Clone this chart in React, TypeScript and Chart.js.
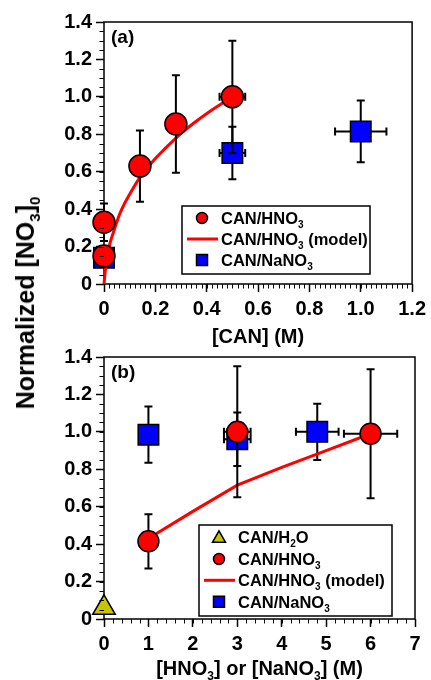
import React, { useEffect, useRef } from 'react';
import { Chart, registerables } from 'chart.js';

Chart.register(...registerables);

const FONT = '"Liberation Sans", Arial, Helvetica, sans-serif';

// ---------- Panel (a): [CAN] (M) ----------
const A_X_TICKS = [0, 0.2, 0.4, 0.6, 0.8, 1.0, 1.2];
const A_X_LABELS = ['0', '0.2', '0.4', '0.6', '0.8', '1.0', '1.2'];
const A_Y_TICKS = [0, 0.2, 0.4, 0.6, 0.8, 1.0, 1.2, 1.4];
const A_Y_LABELS = ['0', '0.2', '0.4', '0.6', '0.8', '1.0', '1.2', '1.4'];

const A_HNO3_X = [0, 0, 0.14, 0.28, 0.5];
const A_HNO3_Y = [0.33, 0.15, 0.63, 0.855, 1.0];
const A_HNO3_YERR = [0.1, 0, 0.19, 0.26, 0.3];
const A_HNO3_XERR = [0, 0, 0, 0, 0.05];

const A_MODEL_X = [0, 0.005, 0.01, 0.02, 0.04, 0.06, 0.08, 0.1, 0.14, 0.2, 0.28, 0.35, 0.42, 0.5];
const A_MODEL_Y = [0, 0.07, 0.12, 0.2, 0.29, 0.37, 0.43, 0.48, 0.57, 0.67, 0.78, 0.86, 0.93, 1.0];

const A_NANO3_X = [0, 0.5, 1.0];
const A_NANO3_Y = [0.14, 0.7, 0.815];
const A_NANO3_YERR = [0, 0.14, 0.165];
const A_NANO3_XERR = [0, 0.05, 0.1];

// ---------- Panel (b): [HNO3] or [NaNO3] (M) ----------
const B_X_TICKS = [0, 1, 2, 3, 4, 5, 6, 7];
const B_X_LABELS = ['0', '1', '2', '3', '4', '5', '6', '7'];
const B_Y_TICKS = [0, 0.2, 0.4, 0.6, 0.8, 1.0, 1.2, 1.4];
const B_Y_LABELS = ['0', '0.2', '0.4', '0.6', '0.8', '1.0', '1.2', '1.4'];

const B_H2O_X = [0];
const B_H2O_Y = [0.06];

const B_HNO3_X = [1, 3, 6];
const B_HNO3_Y = [0.415, 1.0, 0.99];
const B_HNO3_YERR = [0.145, 0.35, 0.345];
const B_HNO3_XERR = [0, 0.3, 0.6];

const B_MODEL_X = [1, 2, 3, 4, 5, 6];
const B_MODEL_Y = [0.43, 0.575, 0.715, 0.81, 0.9, 0.99];

const B_NANO3_X = [1, 3, 4.8];
const B_NANO3_Y = [0.985, 0.96, 1.0];
const B_NANO3_YERR = [0.15, 0.143, 0.15];
const B_NANO3_XERR = [0, 0.3, 0.48];

// ---------- helpers ----------
type Seg = [string, boolean];

function drawRich(ctx: any, segs: Seg[], x: number, yCenter: number, size: number, align: 'left' | 'center') {
  const sub = Math.round(size * 0.62);
  let w = 0;
  for (const [t, s] of segs) {
    ctx.font = `bold ${s ? sub : size}px ${FONT}`;
    w += ctx.measureText(t).width;
  }
  let cx = align === 'center' ? x - w / 2 : x;
  const base = yCenter + size * 0.36;
  ctx.textAlign = 'left';
  ctx.textBaseline = 'alphabetic';
  ctx.fillStyle = '#000';
  for (const [t, s] of segs) {
    ctx.font = `bold ${s ? sub : size}px ${FONT}`;
    ctx.fillText(t, cx, s ? base + size * 0.24 : base);
    cx += ctx.measureText(t).width;
  }
}

const pts = (xs: number[], ys: number[]) => xs.map((x, i) => ({ x, y: ys[i] }));

type LegendItem = { kind: 'circle' | 'rect' | 'tri' | 'line'; color: string; segs: Seg[] };

type Deco = {
  minorX: number;
  minorY: number;
  panel: string;
  xTitle: Seg[];
  xTitleY: number;
  box: { x: number; y: number; w: number; h: number };
  markerX: number;
  textX: number;
  lineX: [number, number];
  rows: number[];
  items: LegendItem[];
};

function decoPlugin(d: Deco) {
  return {
    id: 'deco',
    beforeDatasetsDraw(chart: any) {
      const { ctx, chartArea: a } = chart;
      ctx.save();
      ctx.strokeStyle = '#000';
      ctx.lineWidth = 1.5;
      ctx.strokeRect(a.left, a.top, a.right - a.left, a.bottom - a.top);
      ctx.restore();
    },
    beforeDatasetDraw(chart: any, args: any) {
      const ds: any = chart.data.datasets[args.index];
      if (!ds.errY && !ds.errX) return;
      const ctx = chart.ctx;
      const xs = chart.scales.x;
      const ys = chart.scales.y;
      const cap = 4;
      ctx.save();
      ctx.strokeStyle = '#000';
      ctx.lineWidth = 2;
      ds.data.forEach((p: any, i: number) => {
        const px = xs.getPixelForValue(p.x);
        const py = ys.getPixelForValue(p.y);
        const ey = ds.errY ? ds.errY[i] : 0;
        const ex = ds.errX ? ds.errX[i] : 0;
        ctx.beginPath();
        if (ey > 0) {
          const t = ys.getPixelForValue(p.y + ey);
          const b = ys.getPixelForValue(p.y - ey);
          ctx.moveTo(px, t); ctx.lineTo(px, b);
          ctx.moveTo(px - cap, t); ctx.lineTo(px + cap, t);
          ctx.moveTo(px - cap, b); ctx.lineTo(px + cap, b);
        }
        if (ex > 0) {
          const l = xs.getPixelForValue(p.x - ex);
          const r = xs.getPixelForValue(p.x + ex);
          ctx.moveTo(l, py); ctx.lineTo(r, py);
          ctx.moveTo(l, py - cap); ctx.lineTo(l, py + cap);
          ctx.moveTo(r, py - cap); ctx.lineTo(r, py + cap);
        }
        ctx.stroke();
      });
      ctx.restore();
    },
    afterDraw(chart: any) {
      const { ctx, chartArea: a } = chart;
      const xs = chart.scales.x;
      const ys = chart.scales.y;
      ctx.save();
      // minor ticks
      ctx.strokeStyle = '#000';
      ctx.lineWidth = 1;
      ctx.beginPath();
      const nx = Math.round((xs.max - xs.min) / d.minorX);
      for (let i = 0; i <= nx; i++) {
        const v = xs.min + i * d.minorX;
        const px = Math.round(xs.getPixelForValue(v)) + 0.5;
        ctx.moveTo(px, a.bottom);
        ctx.lineTo(px, a.bottom + 4.5);
      }
      const ny = Math.round((ys.max - ys.min) / d.minorY);
      for (let i = 0; i <= ny; i++) {
        const v = ys.min + i * d.minorY;
        const py = Math.round(ys.getPixelForValue(v)) + 0.5;
        ctx.moveTo(a.left, py);
        ctx.lineTo(a.left - 4.5, py);
      }
      ctx.stroke();

      // panel label
      ctx.fillStyle = '#000';
      ctx.font = `bold 19px ${FONT}`;
      ctx.textAlign = 'left';
      ctx.textBaseline = 'alphabetic';
      ctx.fillText(d.panel, a.left + 7, a.top + 20.5);

      // x title
      drawRich(ctx, d.xTitle, (a.left + a.right) / 2, d.xTitleY, 20, 'center');

      // legend
      const b = d.box;
      ctx.fillStyle = '#fff';
      ctx.fillRect(b.x, b.y, b.w, b.h);
      ctx.strokeStyle = '#000';
      ctx.lineWidth = 1.5;
      ctx.strokeRect(b.x, b.y, b.w, b.h);
      d.items.forEach((it, i) => {
        const y = d.rows[i];
        ctx.lineWidth = 1.5;
        ctx.strokeStyle = '#000';
        ctx.fillStyle = it.color;
        if (it.kind === 'circle') {
          ctx.beginPath();
          ctx.arc(d.markerX, y, 5.5, 0, Math.PI * 2);
          ctx.fill(); ctx.stroke();
        } else if (it.kind === 'rect') {
          ctx.beginPath();
          ctx.rect(d.markerX - 5.5, y - 5.5, 11, 11);
          ctx.fill(); ctx.stroke();
        } else if (it.kind === 'tri') {
          ctx.beginPath();
          ctx.moveTo(d.markerX, y - 6.5);
          ctx.lineTo(d.markerX + 6.5, y + 5);
          ctx.lineTo(d.markerX - 6.5, y + 5);
          ctx.closePath();
          ctx.fill(); ctx.stroke();
        } else {
          ctx.strokeStyle = it.color;
          ctx.lineWidth = 3;
          ctx.beginPath();
          ctx.moveTo(d.lineX[0], y);
          ctx.lineTo(d.lineX[1], y);
          ctx.stroke();
        }
        drawRich(ctx, it.segs, d.textX, y, 16.5, 'left');
      });
      ctx.restore();
    },
  };
}

function scales(xmin: number, xmax: number, xTicks: number[], xLabels: string[], yTicks: number[], yLabels: string[], xHeight: number) {
  const tickFont = { family: FONT, size: 20, weight: 'bold' as const };
  const grid = { drawOnChartArea: false, drawTicks: true, tickLength: 8, tickWidth: 1.5, tickColor: '#000', color: '#000' };
  return {
    x: {
      type: 'linear' as const,
      min: xmin,
      max: xmax,
      position: 'bottom' as const,
      afterBuildTicks: (s: any) => { s.ticks = xTicks.map((v) => ({ value: v })); },
      afterFit: (s: any) => { s.height = xHeight; },
      ticks: { font: tickFont, color: '#000', padding: 5, autoSkip: false, maxRotation: 0, callback: (_v: any, i: number) => xLabels[i] },
      grid,
      border: { display: false },
      title: { display: false },
    },
    y: {
      type: 'linear' as const,
      min: 0,
      max: 1.4,
      afterBuildTicks: (s: any) => { s.ticks = yTicks.map((v) => ({ value: v })); },
      afterFit: (s: any) => { s.width = 104; },
      ticks: { font: tickFont, color: '#000', padding: 4, autoSkip: false, callback: (_v: any, i: number) => yLabels[i] },
      grid,
      border: { display: false },
    },
  };
}

const HNO3: Seg[] = [['CAN/HNO', false], ['3', true]];
const HNO3M: Seg[] = [['CAN/HNO', false], ['3', true], [' (model)', false]];
const NANO3: Seg[] = [['CAN/NaNO', false], ['3', true]];
const H2O: Seg[] = [['CAN/H', false], ['2', true], ['O', false]];

function PanelA() {
  const ref = useRef<HTMLCanvasElement>(null);
  useEffect(() => {
    const chart = new Chart(ref.current!, {
      type: 'scatter',
      data: {
        datasets: [
          {
            label: 'CAN/HNO3',
            data: pts(A_HNO3_X, A_HNO3_Y),
            pointStyle: 'circle',
            pointRadius: 11,
            pointBackgroundColor: '#ff0000',
            pointBorderColor: '#000',
            pointBorderWidth: 1.5,
            clip: false,
            errY: A_HNO3_YERR,
            errX: A_HNO3_XERR,
          } as any,
          {
            type: 'line',
            label: 'CAN/HNO3 (model)',
            data: pts(A_MODEL_X, A_MODEL_Y),
            borderColor: '#ff0000',
            borderWidth: 3,
            pointRadius: 0,
            showLine: true,
            fill: false,
            cubicInterpolationMode: 'monotone',
            clip: false,
          } as any,
          {
            label: 'CAN/NaNO3',
            data: pts(A_NANO3_X, A_NANO3_Y),
            pointStyle: 'rect',
            pointRadius: 14.5,
            pointBackgroundColor: '#0000ff',
            pointBorderColor: '#000',
            pointBorderWidth: 1.5,
            clip: false,
            errY: A_NANO3_YERR,
            errX: A_NANO3_XERR,
          } as any,
        ],
      },
      options: {
        responsive: false,
        animation: false,
        devicePixelRatio: 1,
        events: [],
        layout: { padding: { top: 22, right: 15, left: 0, bottom: 0 } },
        plugins: { legend: { display: false }, tooltip: { enabled: false } },
        scales: scales(0, 1.2, A_X_TICKS, A_X_LABELS, A_Y_TICKS, A_Y_LABELS, 68) as any,
      },
      plugins: [
        decoPlugin({
          minorX: 0.02,
          minorY: 0.05,
          panel: '(a)',
          xTitle: [['[CAN] (M)', false]],
          xTitleY: 336,
          box: { x: 182, y: 206, w: 188, h: 68 },
          markerX: 202,
          textX: 221,
          lineX: [187, 218],
          rows: [218, 239, 260],
          items: [
            { kind: 'circle', color: '#ff0000', segs: HNO3 },
            { kind: 'line', color: '#ff0000', segs: HNO3M },
            { kind: 'rect', color: '#0000ff', segs: NANO3 },
          ],
        }) as any,
      ],
    });
    return () => chart.destroy();
  }, []);
  return <canvas ref={ref} width={431} height={352} style={{ position: 'absolute', left: 0, top: 0 }} />;
}

function PanelB() {
  const ref = useRef<HTMLCanvasElement>(null);
  useEffect(() => {
    const chart = new Chart(ref.current!, {
      type: 'scatter',
      data: {
        datasets: [
          {
            label: 'CAN/HNO3',
            data: pts(B_HNO3_X, B_HNO3_Y),
            pointStyle: 'circle',
            pointRadius: 10.5,
            pointBackgroundColor: '#ff0000',
            pointBorderColor: '#000',
            pointBorderWidth: 1.5,
            clip: false,
            errY: B_HNO3_YERR,
            errX: B_HNO3_XERR,
          } as any,
          {
            type: 'line',
            label: 'CAN/HNO3 (model)',
            data: pts(B_MODEL_X, B_MODEL_Y),
            borderColor: '#ff0000',
            borderWidth: 3,
            pointRadius: 0,
            showLine: true,
            fill: false,
            tension: 0,
            clip: false,
          } as any,
          {
            label: 'CAN/NaNO3',
            data: pts(B_NANO3_X, B_NANO3_Y),
            pointStyle: 'rect',
            pointRadius: 14.5,
            pointBackgroundColor: '#0000ff',
            pointBorderColor: '#000',
            pointBorderWidth: 1.5,
            clip: false,
            errY: B_NANO3_YERR,
            errX: B_NANO3_XERR,
          } as any,
          {
            label: 'CAN/H2O',
            data: pts(B_H2O_X, B_H2O_Y),
            pointStyle: 'triangle',
            pointRadius: 13,
            pointBackgroundColor: '#c8c400',
            pointBorderColor: '#000',
            pointBorderWidth: 1.5,
            clip: false,
          } as any,
        ],
      },
      options: {
        responsive: false,
        animation: false,
        devicePixelRatio: 1,
        events: [],
        layout: { padding: { top: 17, right: 15, left: 0, bottom: 0 } },
        plugins: { legend: { display: false }, tooltip: { enabled: false } },
        scales: scales(0, 7, B_X_TICKS, B_X_LABELS, B_Y_TICKS, B_Y_LABELS, 61) as any,
      },
      plugins: [
        decoPlugin({
          minorX: 0.2,
          minorY: 0.05,
          panel: '(b)',
          xTitle: [['[HNO', false], ['3', true], ['] or [NaNO', false], ['3', true], ['] (M)', false]],
          xTitleY: 328,
          box: { x: 199, y: 185, w: 193, h: 91 },
          markerX: 219,
          textX: 238,
          lineX: [204, 235],
          rows: [197.3, 219, 240.3, 261.7],
          items: [
            { kind: 'tri', color: '#c8c400', segs: H2O },
            { kind: 'circle', color: '#ff0000', segs: HNO3 },
            { kind: 'line', color: '#ff0000', segs: HNO3M },
            { kind: 'rect', color: '#0000ff', segs: NANO3 },
          ],
        }) as any,
      ],
    });
    return () => chart.destroy();
  }, []);
  return <canvas ref={ref} width={431} height={340} style={{ position: 'absolute', left: 0, top: 340 }} />;
}

export default function App() {
  const subStyle: React.CSSProperties = { fontSize: 15, position: 'relative', top: 6, verticalAlign: 'baseline', lineHeight: 1 };
  return (
    <div style={{ position: 'fixed', left: 0, top: 0, width: 431, height: 680, background: '#fff', overflow: 'hidden' }}>
      <PanelA />
      <PanelB />
      <div
        style={{
          position: 'absolute',
          left: 25,
          top: 303,
          transform: 'translate(-50%, -50%) rotate(-90deg)',
          whiteSpace: 'nowrap',
          font: `bold 25px ${FONT}`,
          lineHeight: '28px',
          color: '#000',
        }}
      >
        Normalized [NO<span style={subStyle}>3</span>]<span style={subStyle}>0</span>
      </div>
    </div>
  );
}
